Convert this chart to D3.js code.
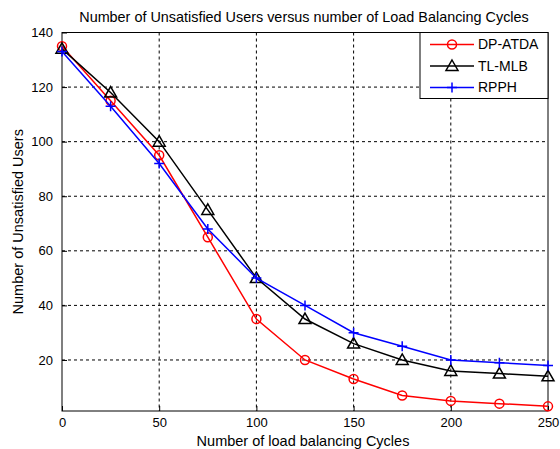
<!DOCTYPE html>
<html>
<head>
<meta charset="utf-8">
<script src="https://cdn.jsdelivr.net/npm/d3@7"></script>
<style>
  body { margin: 0; background: #fff; }
  text { font-family: "Liberation Sans", Arial, sans-serif; }
</style>
</head>
<body>
<div id="grafico"></div>
<script>
// Datos
var ciclos = [0, 25, 50, 75, 100, 125, 150, 175, 200, 225, 250];
var dpAtda = [135, 115, 95, 65, 35, 20, 13, 7, 5, 4, 3];
var tlMlb = [134, 118, 100, 75, 50, 35, 26, 20, 16, 15, 14];
var rpph = [133, 113, 92, 68, 50, 40, 30, 25, 20, 19, 18];
var xTicks = [0, 50, 100, 150, 200, 250];
var yTicks = [20, 40, 60, 80, 100, 120, 140];
var series = [
  {name: "DP-ATDA", values: dpAtda, color: "red", marker: "circle"},
  {name: "TL-MLB", values: tlMlb, color: "black", marker: "triangle"},
  {name: "RPPH", values: rpph, color: "blue", marker: "plus"}
];

var margin = {top: 32.5, right: 12, bottom: 38, left: 62},
width = 560 - margin.left - margin.right,
height = 449 - margin.top - margin.bottom;

var svg = d3.select("#grafico")
  .append("svg")
    .attr("width", 560)
    .attr("height", 449);
var g = svg.append("g")
    .attr("transform", "translate(" + margin.left + "," + margin.top + ")");

var x = d3.scaleLinear().domain([0, 250]).range([0, width]);
var y = d3.scaleLinear().domain([1.3, 140]).range([height, 0]);

// Rejilla
g.append("g").selectAll("line").data(xTicks.slice(1, -1)).enter().append("line")
  .attr("x1", function(d){ return x(d); }).attr("x2", function(d){ return x(d); })
  .attr("y1", 0).attr("y2", height)
  .attr("stroke", "black").attr("stroke-width", 1).attr("stroke-dasharray", "3,3");
g.append("g").selectAll("line").data(yTicks.slice(0, -1)).enter().append("line")
  .attr("x1", 0).attr("x2", width)
  .attr("y1", function(d){ return y(d); }).attr("y2", function(d){ return y(d); })
  .attr("stroke", "black").attr("stroke-width", 1).attr("stroke-dasharray", "3,3");

// Ejes
var ejeX = g.append("g").attr("transform", "translate(0," + height + ")")
  .call(d3.axisBottom(x).tickValues(xTicks).tickSize(-5).tickPadding(7));
var ejeY = g.append("g")
  .call(d3.axisLeft(y).tickValues(yTicks).tickSize(-5).tickPadding(9));
[ejeX, ejeY].forEach(function(e) {
  e.select(".domain").remove();
  e.selectAll("text").style("font-size", "13px").attr("fill", "black")
    .style("font-family", "Liberation Sans, Arial, sans-serif");
});
g.append("rect").attr("width", width).attr("height", height)
  .attr("fill", "none").attr("stroke", "black").attr("stroke-width", 1);

// Lineas
var linea = d3.line()
  .x(function(d, i){ return x(ciclos[i]); })
  .y(function(d){ return y(d); });

function marcador(sel, tipo, color) {
  if (tipo === "circle") {
    sel.append("circle").attr("r", 4.5).attr("fill", "none")
      .attr("stroke", color).attr("stroke-width", 1.5);
  } else if (tipo === "triangle") {
    sel.append("path").attr("d", "M0,-6L6,4.5L-6,4.5Z").attr("fill", "none")
      .attr("stroke", color).attr("stroke-width", 1.5);
  } else {
    sel.append("path").attr("d", "M-5,0H5M0,-5V5")
      .attr("stroke", color).attr("stroke-width", 1.5);
  }
}

series.forEach(function(s) {
  g.append("path").datum(s.values)
    .attr("fill", "none").attr("stroke", s.color).attr("stroke-width", 1.5)
    .attr("d", linea);
  g.append("g").selectAll("g").data(s.values).enter().append("g")
    .attr("transform", function(d, i){ return "translate(" + x(ciclos[i]) + "," + y(d) + ")"; })
    .each(function() { marcador(d3.select(this), s.marker, s.color); });
});

// Leyenda
var leg = g.append("g").attr("transform", "translate(" + (width - 128) + ",0)");
leg.append("rect").attr("width", 128).attr("height", 66)
  .attr("fill", "white").attr("stroke", "black").attr("stroke-width", 1);
series.forEach(function(s, i) {
  var ly = 12 + i * 21.5;
  leg.append("line").attr("x1", 10).attr("x2", 54).attr("y1", ly).attr("y2", ly)
    .attr("stroke", s.color).attr("stroke-width", 1.5);
  marcador(leg.append("g").attr("transform", "translate(32," + ly + ")"), s.marker, s.color);
  leg.append("text").attr("x", 58).attr("y", ly).attr("dy", "0.35em")
    .style("font-size", "14px").text(s.name);
});

// Titulos
svg.append("text").attr("text-anchor", "middle")
  .attr("x", margin.left + width / 2 - 1).attr("y", 22)
  .style("font-size", "14.4px").text("Number of Unsatisfied Users versus number of Load Balancing Cycles");
svg.append("text").attr("text-anchor", "middle")
  .attr("x", 303).attr("y", 446)
  .style("font-size", "14.5px").text("Number of load balancing Cycles");
svg.append("text").attr("text-anchor", "middle")
  .attr("transform", "rotate(-90)")
  .attr("x", -(margin.top + height / 2)).attr("y", 23)
  .style("font-size", "14.5px").text("Number of Unsatisfied Users");
</script>
</body>
</html>
